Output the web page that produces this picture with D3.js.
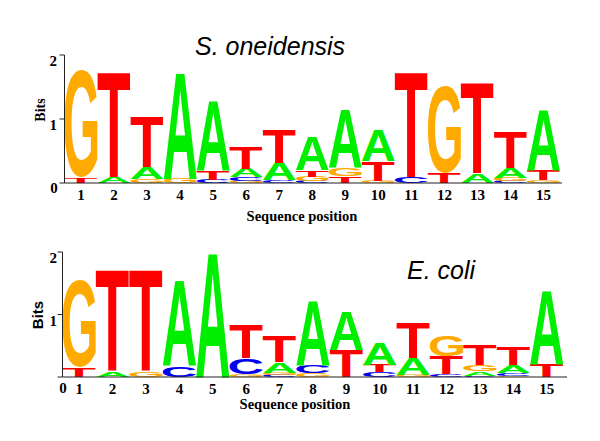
<!DOCTYPE html>
<html><head><meta charset="utf-8">
<script src="https://cdn.jsdelivr.net/npm/d3@7"></script>
<style>body{margin:0;background:#fff}</style>
</head><body>
<svg id="c" width="600" height="441" xmlns="http://www.w3.org/2000/svg"></svg>
<script>
// ---- data ----
const positions = [1,2,3,4,5,6,7,8,9,10,11,12,13,14,15];
const bases = ["A","C","G","T"];
const yTicks = [0,1,2];
const titles = ["S. oneidensis", "E. coli"];
// S. oneidensis (bits per base per position)
const so_A = [0,   0.10,0.19,1.67,1.10,0.13,0.28,0.52,0.91,0.48,0,   0,   0.15,0.16,0.96];
const so_C = [0,   0,   0,   0,   0.05,0.06,0.04,0.03,0,   0,   0.10,0,   0,   0.03,0];
const so_G = [1.66,0,   0.06,0.07,0,   0.03,0,   0.07,0.13,0.03,0,   1.35,0,   0.05,0.04];
const so_T = [0.08,1.64,0.80,0,   0.13,0.34,0.53,0.10,0.10,0.31,1.64,0.15,1.42,0.56,0.16];
// E. coli
const ec_A = [0,   0.09,0,   1.38,2.00,0,   0.17,1.04,0.62,0.36,0.27,0,   0.07,0.12,1.19];
const ec_C = [0,   0,   0,   0.17,0,   0.26,0.03,0.13,0,   0.08,0,   0.05,0.02,0.05,0];
const ec_G = [1.40,0,   0.09,0,   0,   0.05,0.04,0.06,0,   0,   0.03,0.33,0.10,0.02,0];
const ec_T = [0.15,1.63,1.63,0,   0,   0.53,0.42,0,   0.43,0.12,0.55,0.28,0.33,0.28,0.20];

const colors = {A:"#00EE00", C:"#0000EE", G:"#FFAA00", T:"#FF0000"};

// ---- glyph metrics ----
const FONT_FAMILY = "'Liberation Sans', Arial, Helvetica, sans-serif";
const ctx = document.createElement("canvas").getContext("2d");
ctx.font = "bold 100px " + FONT_FAMILY;
const glyph = {};
bases.forEach(L => {
  const m = ctx.measureText(L);
  glyph[L] = {l: m.actualBoundingBoxLeft, r: m.actualBoundingBoxRight,
              a: m.actualBoundingBoxAscent, d: m.actualBoundingBoxDescent};
});

const svg = d3.select("#c");

const panels = [
  {data:{A:so_A,C:so_C,G:so_G,T:so_T}, title:titles[0],
   xr:[64.5,560], axisEnd:562, yr:[183,55], titleX:195, titleY:55,
   bitsX:42, bitsY:110, bitsFont:"bold 14px 'Liberation Serif', 'Times New Roman', serif",
   zeroX:54, zeroY:193, xlabY:200, seqY:221, seqX:302, ylabX:57},
  {data:{A:ec_A,C:ec_C,G:ec_G,T:ec_T}, title:titles[1],
   xr:[62.5,563.5], axisEnd:567, yr:[377,252], titleX:407, titleY:279,
   bitsX:39, bitsY:315, bitsFont:"bold 15px 'Liberation Sans', Arial, sans-serif",
   zeroX:63, zeroY:393, xlabY:394, seqY:409, seqX:295, ylabX:57}
];

const serifBold = "'Liberation Serif', 'Times New Roman', serif";

panels.forEach(p => {
  const x = d3.scaleBand().domain(positions).range(p.xr).padding(0);
  const y = d3.scaleLinear().domain([0,2]).range(p.yr);
  const g = svg.append("g");

  // stacks: smallest at bottom
  const stacks = positions.map((pos, i) => {
    const items = bases.map(L => ({L, h: p.data[L][i]})).filter(d => d.h > 0)
      .sort((a,b) => a.h - b.h);
    let acc = 0;
    items.forEach(d => { d.y0 = acc; acc += d.h; d.y1 = acc; d.pos = pos; });
    return items;
  }).flat();

  g.selectAll("text.letter").data(stacks).join("text")
    .attr("class","letter")
    .attr("font-family", FONT_FAMILY).attr("font-weight","bold").attr("font-size",100)
    .attr("fill", d => colors[d.L])
    .attr("transform", d => {
      const gm = glyph[d.L];
      const x0 = x(d.pos), w = x.bandwidth();
      const yt = y(d.y1), h = y(d.y0) - y(d.y1);
      return `translate(${x0},${yt}) scale(${w/(gm.l+gm.r)},${h/(gm.a+gm.d)}) translate(${gm.l},${gm.a})`;
    })
    .text(d => d.L);

  // axes
  const x0 = p.xr[0];
  g.append("line").attr("x1", x0).attr("x2", p.axisEnd).attr("y1", y(0)).attr("y2", y(0))
    .attr("stroke","#222").attr("stroke-width",1.2);
  g.append("line").attr("x1", x0).attr("x2", x0).attr("y1", y(0)).attr("y2", y(2))
    .attr("stroke","#222").attr("stroke-width",1);
  g.selectAll("line.yt").data(yTicks).join("line").attr("class","yt")
    .attr("x1", x0-5).attr("x2", x0).attr("y1", d => y(d)).attr("y2", d => y(d))
    .attr("stroke","#222").attr("stroke-width",1);
  g.selectAll("text.yl").data(yTicks.filter(d => d>0)).join("text").attr("class","yl")
    .attr("x", p.ylabX).attr("y", d => y(d)+11).attr("text-anchor","end")
    .attr("font-family", serifBold).attr("font-weight","bold").attr("font-size",15)
    .text(d => d);
  g.append("text").attr("x", p.zeroX).attr("y", p.zeroY).attr("text-anchor","middle")
    .attr("font-family", serifBold).attr("font-weight","bold").attr("font-size",15).text("0");
  g.selectAll("text.xl").data(positions).join("text").attr("class","xl")
    .attr("x", d => x(d) + x.bandwidth()/2).attr("y", p.xlabY).attr("text-anchor","middle")
    .attr("font-family", serifBold).attr("font-weight","bold").attr("font-size",15)
    .text(d => d);
  g.append("text").attr("x", p.seqX).attr("y", p.seqY).attr("text-anchor","middle")
    .attr("font-family", serifBold).attr("font-weight","bold").attr("font-size",14.5)
    .text("Sequence position");
  g.append("text").attr("transform", `translate(${p.bitsX},${p.bitsY}) rotate(-90)`)
    .attr("text-anchor","middle").attr("dominant-baseline","middle")
    .style("font", p.bitsFont).text("Bits");
  g.append("text").attr("x", p.titleX).attr("y", p.titleY)
    .attr("font-family","'Liberation Sans', Arial, sans-serif").attr("font-style","italic")
    .attr("font-size",25).attr("fill","#000").text(p.title);
});
</script>
</body></html>
